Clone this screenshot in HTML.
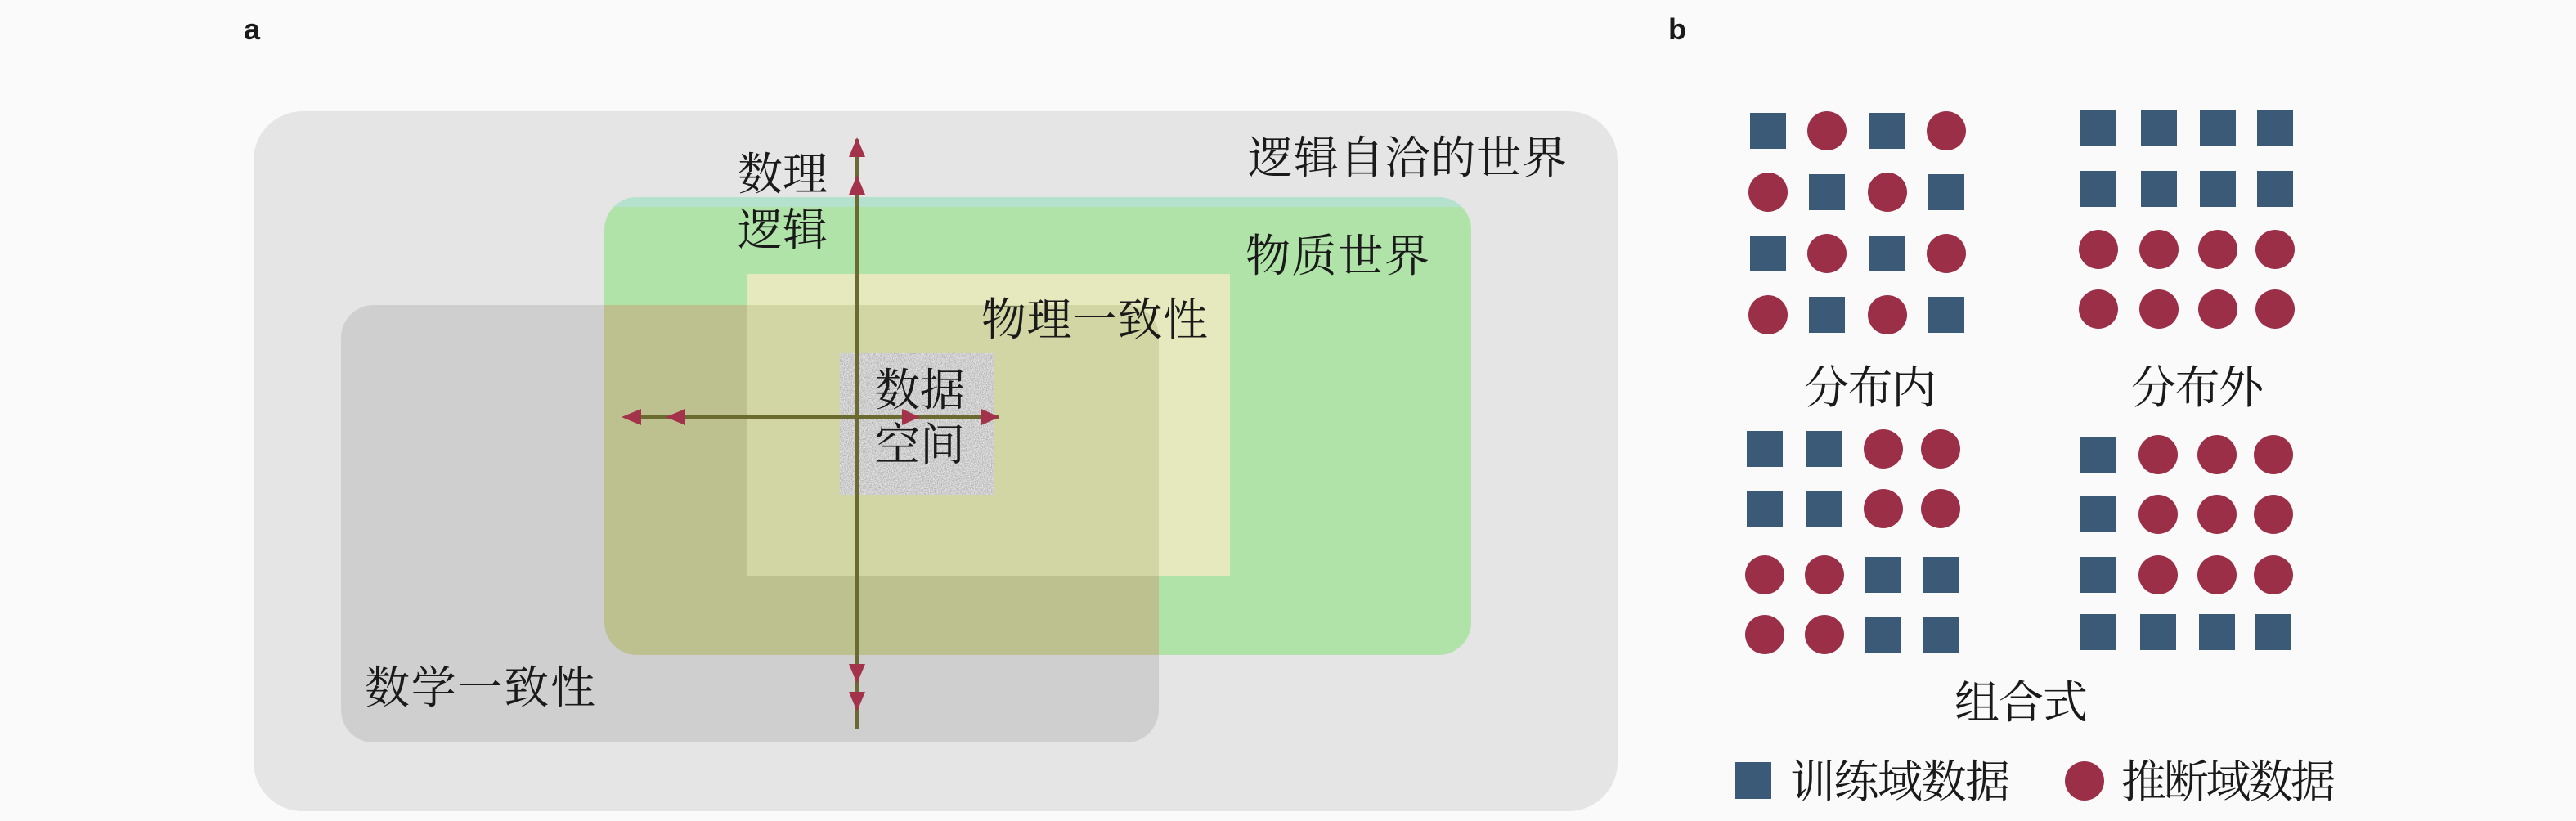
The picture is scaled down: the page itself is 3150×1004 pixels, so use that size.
<!DOCTYPE html>
<html><head><meta charset="utf-8"><style>
html,body{margin:0;padding:0;background:#fafafa;}
svg{display:block;}
text{font-family:"Liberation Serif","Noto Serif CJK SC","Noto Sans CJK SC",serif;fill:#1a1a1a;}
</style></head><body>
<svg width="3150" height="1004" viewBox="0 0 3150 1004" xmlns="http://www.w3.org/2000/svg">
<defs>
<filter id="noise" x="0" y="0" width="100%" height="100%" filterUnits="objectBoundingBox">
<feTurbulence type="fractalNoise" baseFrequency="0.8" numOctaves="2" seed="3" result="t"/>
<feColorMatrix in="t" type="matrix" values="0.8 0 0 0 0.22  0.8 0 0 0 0.22  0.8 0 0 0 0.22  0 0 0 0 1"/>
</filter>
<clipPath id="greenClip"><rect x="739" y="241" width="1060" height="560" rx="40"/></clipPath>
<clipPath id="grayClip"><rect x="417" y="373" width="1000" height="535" rx="40"/></clipPath>
</defs>
<rect width="3150" height="1004" fill="#fafafa"/>
<text x="298" y="48" font-weight="bold" font-size="36" style="font-family:'Liberation Sans',sans-serif">a</text>
<rect x="310" y="136" width="1668" height="856" rx="60" fill="#e5e5e5"/>
<rect x="739" y="241" width="1060" height="560" rx="40" fill="#b0e3a8"/>
<rect x="739" y="241" width="1060" height="12" fill="#b4e2cf" clip-path="url(#greenClip)"/>
<rect x="913" y="335" width="591" height="369" fill="#e5e9bd"/>
<rect x="417" y="373" width="1000" height="535" rx="40" fill="#cfcfcf"/>
<g clip-path="url(#grayClip)">
  <g clip-path="url(#greenClip)"><rect x="739" y="373" width="678" height="428" fill="#bdc08f"/></g>
  <rect x="913" y="373" width="504" height="331" fill="#d1d6a4"/>
</g>
<rect x="1027" y="432" width="189" height="173" fill="#a8a8a8" filter="url(#noise)"/>
<line x1="1048" y1="170" x2="1048" y2="892" stroke="#6b6a30" stroke-width="4"/>
<line x1="766" y1="510" x2="1222" y2="510" stroke="#6b6a30" stroke-width="4"/>
<g fill="#a3334a">
<polygon points="1048,168 1038,192 1058,192"/>
<polygon points="1048,214 1038,238 1058,238"/>
<polygon points="1048,836 1038,812 1058,812"/>
<polygon points="1048,870 1038,846 1058,846"/>
<polygon points="760,510 784,500 784,520"/>
<polygon points="814,510 838,500 838,520"/>
<polygon points="1125,510 1103,500 1103,520"/>
<polygon points="1222,510 1200,500 1200,520"/>
</g>
<g font-size="55">
<text x="1526" y="212" textLength="390">逻辑自洽的世界</text>
<text x="1523" y="332" textLength="225">物质世界</text>
<text x="1200" y="410" textLength="277">物理一致性</text>
<text x="902" y="232">数理</text>
<text x="902" y="300">逻辑</text>
<text x="1070" y="496">数据</text>
<text x="1070" y="563">空间</text>
<text x="446" y="860" textLength="282">数学一致性</text>
</g>
<text x="2040" y="48" font-weight="bold" font-size="36" style="font-family:'Liberation Sans',sans-serif">b</text>
<g fill="#3b5a78">
<rect x="2140" y="138" width="44" height="44"/><rect x="2286" y="138" width="44" height="44"/>
<rect x="2212" y="213" width="44" height="44"/><rect x="2358" y="213" width="44" height="44"/>
<rect x="2140" y="288" width="44" height="44"/><rect x="2286" y="288" width="44" height="44"/>
<rect x="2212" y="363" width="44" height="44"/><rect x="2358" y="363" width="44" height="44"/>
<rect x="2544" y="134" width="44" height="44"/><rect x="2618" y="134" width="44" height="44"/><rect x="2690" y="134" width="44" height="44"/><rect x="2760" y="134" width="44" height="44"/>
<rect x="2544" y="209" width="44" height="44"/><rect x="2618" y="209" width="44" height="44"/><rect x="2690" y="209" width="44" height="44"/><rect x="2760" y="209" width="44" height="44"/>
<rect x="2136" y="527" width="44" height="44"/><rect x="2209" y="527" width="44" height="44"/>
<rect x="2136" y="600" width="44" height="44"/><rect x="2209" y="600" width="44" height="44"/>
<rect x="2281" y="681" width="44" height="44"/><rect x="2351" y="681" width="44" height="44"/>
<rect x="2281" y="754" width="44" height="44"/><rect x="2351" y="754" width="44" height="44"/>
<rect x="2543" y="534" width="44" height="44"/><rect x="2543" y="607" width="44" height="44"/><rect x="2543" y="681" width="44" height="44"/>
<rect x="2543" y="751" width="44" height="44"/><rect x="2617" y="751" width="44" height="44"/><rect x="2689" y="751" width="44" height="44"/><rect x="2758" y="751" width="44" height="44"/>
<rect x="2121" y="932" width="45" height="45"/>
</g>
<g fill="#9c2f48">
<circle cx="2234" cy="160" r="24"/><circle cx="2380" cy="160" r="24"/>
<circle cx="2162" cy="235" r="24"/><circle cx="2308" cy="235" r="24"/>
<circle cx="2234" cy="310" r="24"/><circle cx="2380" cy="310" r="24"/>
<circle cx="2162" cy="385" r="24"/><circle cx="2308" cy="385" r="24"/>
<circle cx="2566" cy="305" r="24"/><circle cx="2640" cy="305" r="24"/><circle cx="2712" cy="305" r="24"/><circle cx="2782" cy="305" r="24"/>
<circle cx="2566" cy="378" r="24"/><circle cx="2640" cy="378" r="24"/><circle cx="2712" cy="378" r="24"/><circle cx="2782" cy="378" r="24"/>
<circle cx="2303" cy="549" r="24"/><circle cx="2373" cy="549" r="24"/>
<circle cx="2303" cy="622" r="24"/><circle cx="2373" cy="622" r="24"/>
<circle cx="2158" cy="703" r="24"/><circle cx="2231" cy="703" r="24"/>
<circle cx="2158" cy="776" r="24"/><circle cx="2231" cy="776" r="24"/>
<circle cx="2639" cy="556" r="24"/><circle cx="2711" cy="556" r="24"/><circle cx="2780" cy="556" r="24"/>
<circle cx="2639" cy="629" r="24"/><circle cx="2711" cy="629" r="24"/><circle cx="2780" cy="629" r="24"/>
<circle cx="2639" cy="703" r="24"/><circle cx="2711" cy="703" r="24"/><circle cx="2780" cy="703" r="24"/>
<circle cx="2549" cy="955" r="24"/>
</g>
<g font-size="55">
<text x="2206" y="493" textLength="162">分布内</text>
<text x="2606" y="493" textLength="162">分布外</text>
<text x="2390" y="878" textLength="163">组合式</text>
<text x="2189" y="975" textLength="269">训练域数据</text>
<text x="2594" y="975" textLength="262">推断域数据</text>
</g>
</svg>
</body></html>
